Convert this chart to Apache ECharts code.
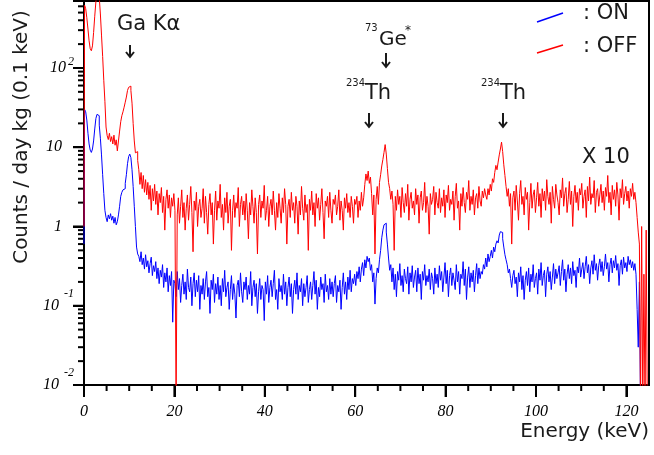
<!DOCTYPE html>
<html>
<head>
<meta charset="utf-8">
<script src="https://cdn.jsdelivr.net/npm/echarts@6/dist/echarts.min.js"></script>
<style>
  html, body { margin: 0; padding: 0; background: #fff; overflow: hidden; }
  #wrap { position: relative; width: 654px; height: 455px; }
  .layer { position: absolute; left: 0; top: 0; width: 654px; height: 455px; }
</style>
</head>
<body>
<div id="wrap">
  <div id="axes" class="layer"></div>
  <div id="chart" class="layer"></div>
</div>
<script>
  // spectra, 0.25 keV bins; each segment starts at the energy given with it
  let binWidth = 0.25;

  // ON (blue)
  let onLow = [0.6, 30, 28, 22, 15, 11, 9.2, 8.6, 9.5, 12, 17, 23, 26, 25, 19, 13, 8, 4.5, 2.6, 1.6,
    1.3, 1.15, 1.4, 1.25, 1.45, 1.2, 1.35, 1.1, 1.3, 1.05, 1.15, 1.4, 1.8, 2.4, 2.7, 2.9, 3.0, 3.5, 4.5, 6.2,
    7.6, 8.2, 7.4, 5.2, 3.2, 1.8, 1.0, 0.55, 0.45];
  let onTail = [0.42, 0.36, 0.48, 0.33, 0.4, 0.29, 0.44, 0.31, 0.37, 0.26, 0.34, 0.41, 0.24, 0.32, 0.27, 0.36,
    0.22, 0.3, 0.19, 0.28, 0.23, 0.33, 0.17, 0.26, 0.2, 0.3, 0.15, 0.24, 0.18, 0.27, 0.062, 0.21];
  let onFlat1 = [
    0.19, 0.13, 0.27, 0.16, 0.22, 0.11, 0.18, 0.25, 0.14, 0.2, 0.12, 0.29, 0.17, 0.15, 0.23, 0.1, 0.19, 0.26, 0.13, 0.21,
    0.15, 0.24, 0.09, 0.18, 0.14, 0.22, 0.12, 0.2, 0.27, 0.13, 0.17, 0.08, 0.21, 0.16, 0.25, 0.11, 0.19, 0.14, 0.23, 0.12,
    0.18, 0.1, 0.22, 0.15, 0.28, 0.13, 0.17, 0.2, 0.09, 0.16, 0.24, 0.12, 0.19, 0.14, 0.07, 0.18, 0.21, 0.13, 0.26, 0.15,
    0.11, 0.2, 0.16, 0.23, 0.12, 0.18, 0.14, 0.27, 0.1, 0.17, 0.21, 0.13, 0.19, 0.08, 0.15, 0.22, 0.12, 0.18, 0.16, 0.065,
    0.2, 0.14, 0.24, 0.11, 0.17, 0.21, 0.13, 0.19, 0.28, 0.12, 0.16, 0.09, 0.22, 0.15, 0.18, 0.12, 0.25, 0.14, 0.2, 0.1,
    0.17, 0.23, 0.13, 0.19, 0.08, 0.16, 0.21, 0.14, 0.26, 0.12, 0.18, 0.15, 0.22, 0.1, 0.19, 0.13, 0.17, 0.24, 0.11, 0.16,
    0.2, 0.12, 0.18, 0.27, 0.14, 0.21, 0.09, 0.17, 0.13, 0.23, 0.16, 0.19, 0.11, 0.25, 0.15, 0.18, 0.12, 0.22, 0.14, 0.2,
    0.13, 0.19, 0.24, 0.11, 0.18, 0.15, 0.21, 0.09, 0.17, 0.26, 0.14, 0.2, 0.12, 0.23, 0.16, 0.28, 0.15, 0.22, 0.19, 0.25];
  let onPeak67 = [0.18, 0.27, 0.22, 0.31, 0.2, 0.29, 0.35, 0.24, 0.38, 0.3, 0.42, 0.36, 0.4, 0.28, 0.33, 0.2,
    0.26, 0.105, 0.22, 0.3, 0.26, 0.38, 0.5, 0.72, 0.9, 1.05, 1.1, 0.85, 0.6, 0.4, 0.28, 0.33];
  let onFlat2 = [
    0.2, 0.3, 0.16, 0.25, 0.13, 0.27, 0.21, 0.34, 0.18, 0.24, 0.15, 0.29, 0.22, 0.19, 0.31, 0.14, 0.26, 0.2, 0.32, 0.17,
    0.23, 0.28, 0.15, 0.3, 0.19, 0.25, 0.12, 0.27, 0.21, 0.33, 0.18, 0.24, 0.2, 0.29, 0.16, 0.26, 0.22, 0.14, 0.3, 0.19,
    0.25, 0.17, 0.32, 0.21, 0.27, 0.15, 0.23, 0.35, 0.19, 0.28, 0.13, 0.24, 0.3, 0.18, 0.26, 0.21, 0.16, 0.33, 0.2, 0.27,
    0.14, 0.25, 0.22, 0.36, 0.18, 0.29, 0.12, 0.23, 0.31, 0.17, 0.26, 0.2, 0.28, 0.15, 0.24, 0.34, 0.19, 0.3, 0.22, 0.27,
    0.25, 0.33, 0.29, 0.4];
  let onPeak92 = [0.31, 0.45, 0.36, 0.42, 0.5, 0.4, 0.55, 0.48, 0.6, 0.66, 0.62, 0.78, 0.86, 0.84, 0.7, 0.55,
    0.44, 0.38, 0.33, 0.26, 0.29, 0.22, 0.17, 0.24];
  let onFlat3 = [
    0.28, 0.19, 0.23, 0.13, 0.26, 0.2, 0.31, 0.16, 0.24, 0.12, 0.21, 0.27, 0.18, 0.3, 0.15, 0.25, 0.2, 0.33, 0.17, 0.22,
    0.26, 0.14, 0.29, 0.21, 0.35, 0.18, 0.24, 0.28, 0.13, 0.25, 0.31, 0.2, 0.27, 0.16, 0.23, 0.34, 0.19, 0.29, 0.22, 0.26,
    0.32, 0.18, 0.27, 0.38, 0.21, 0.29, 0.15, 0.25, 0.33, 0.22, 0.3, 0.19, 0.36, 0.24, 0.28, 0.17, 0.31, 0.26, 0.4, 0.23];
  let onFlat4 = [
    0.29, 0.35, 0.22, 0.31, 0.42, 0.26, 0.33, 0.19, 0.3, 0.37, 0.25, 0.44, 0.28, 0.34, 0.21, 0.32, 0.39, 0.27, 0.36, 0.24,
    0.31, 0.45, 0.29, 0.35, 0.2, 0.33, 0.4, 0.26, 0.37, 0.3, 0.43, 0.28, 0.34, 0.18, 0.32, 0.38, 0.25, 0.41, 0.3, 0.35,
    0.27, 0.42, 0.33, 0.38, 0.3, 0.36, 0.28, 0.34];
  let onEnd = [0.25, 0.09, 0.03, 0.2, 0.005, 0.005, 0.005, 0.005, 0.005, 0.005, 0.005, 0.005];

  // OFF (red, already x 10)
  let offLow = [1.0, 620, 560, 430, 310, 220, 175, 165, 190, 280, 450, 680, 900, 950, 780, 480, 260, 140, 70, 38,
    18, 14, 12.5, 15, 11.8, 13.6, 11, 14.2, 10.6, 12.4, 9.0, 12, 16, 21, 25, 28, 32, 37, 43, 52,
    57, 59, 52, 36, 20, 12, 8.5, 8.8, 6.8];
  let offTail = [5.2, 3.4, 4.8, 3.0, 4.4, 2.7, 3.9, 2.5, 3.6, 2.2, 3.3, 1.6, 3.0, 2.1, 3.4, 1.9,
    2.8, 1.4, 2.6, 2.0, 3.1, 1.5, 2.4, 0.9, 2.2, 2.9, 1.7, 2.5, 1.3, 2.3, 1.8, 2.6, 1.6, 0.005];
  let offFlat1 = [
    1.4, 2.3, 1.1, 1.8, 2.9, 1.3, 2.0, 0.9, 1.7, 2.5, 1.2, 1.9, 3.2, 1.5, 0.48, 2.1, 1.6, 2.7, 1.0, 1.8,
    2.2, 1.3, 1.7, 3.0, 1.1, 2.4, 1.5, 0.8, 1.9, 2.6, 1.4, 2.0, 0.6, 1.6, 2.8, 1.2, 2.1, 1.7, 3.4, 1.3,
    1.9, 0.9, 2.3, 1.5, 2.7, 1.1, 1.8, 2.2, 0.5, 1.6, 2.5, 1.3, 2.0, 1.7, 3.1, 1.0, 1.9, 2.4, 1.4, 2.1,
    1.2, 2.6, 1.6, 0.7, 2.0, 1.4, 2.9, 1.8, 1.1, 2.3, 1.5, 0.45, 1.9, 2.5, 1.3, 2.1, 1.7, 3.3, 1.2, 1.6,
    2.4, 1.0, 1.8, 2.2, 1.4, 2.8, 1.6, 0.9, 2.0, 1.3, 2.6, 1.7, 1.1, 2.3, 1.5, 3.0, 1.9, 0.6, 1.8, 2.2,
    1.3, 2.7, 1.6, 2.0, 1.1, 2.4, 1.8, 0.8, 2.1, 1.4, 3.2, 1.7, 1.2, 2.5, 1.5, 1.9, 0.5, 2.2, 1.6, 2.8,
    1.4, 2.0, 1.0, 2.6, 1.7, 2.3, 1.2, 1.9, 3.0, 1.5, 0.7, 2.1, 1.8, 2.4, 1.3, 2.7, 1.6, 1.1, 2.2, 1.9,
    2.5, 1.4, 1.8, 2.9, 1.2, 2.1, 1.6, 0.9, 2.3, 1.7, 2.6, 1.5, 2.0, 1.3, 2.4, 1.8, 1.1, 2.2];
  let offPeak67 = [1.9, 2.4, 1.3, 2.1, 1.6, 2.7, 1.8, 2.3, 3.4, 4.6, 3.8, 5.0, 3.5, 4.2, 2.6, 1.4,
    2.5, 0.45, 2.2, 3.2, 1.9, 3.6, 4.5, 5.8, 7.0, 8.6, 10.8, 8.2, 5.4, 3.6, 3.0, 2.2, 2.8, 1.9, 0.5, 2.4];
  let offFlat2 = [
    1.6, 2.9, 1.9, 2.4, 1.3, 3.1, 2.0, 1.5, 2.6, 1.8, 3.4, 1.2, 2.2, 2.7, 1.7, 2.1, 1.4, 3.0, 1.9, 2.5,
    1.1, 2.3, 2.8, 1.6, 2.0, 3.6, 1.5, 2.4, 1.8, 0.8, 2.6, 1.9, 2.2, 3.2, 1.4, 2.7, 2.0, 1.7, 3.0, 1.5,
    2.3, 1.8, 2.9, 1.3, 2.5, 2.0, 3.3, 1.6, 2.2, 1.9, 2.8, 1.2, 2.4, 3.5, 1.7, 2.1, 0.9, 2.6, 1.8, 3.1,
    2.0, 1.5, 2.7, 2.2, 3.8, 1.6, 2.4, 1.9, 2.9, 1.4, 2.3, 2.6, 1.7, 3.2, 2.1, 1.8, 2.8, 2.3, 3.0, 2.5];
  let offPeak92 = [2.2, 3.0, 2.5, 3.4, 2.8, 4.0, 3.6, 4.8, 5.9, 5.2, 6.5, 8.0, 9.5, 11.6, 8.8, 6.0,
    4.4, 3.2, 2.4, 3.0, 1.8, 2.6, 0.6, 2.3];
  let offFlat3 = [
    2.8, 1.6, 3.3, 2.1, 1.2, 2.6, 3.8, 1.9, 2.4, 1.4, 3.1, 2.2, 2.7, 0.9, 2.0, 3.5, 1.7, 2.5, 2.9, 1.5,
    2.3, 3.6, 1.8, 2.6, 1.3, 3.0, 2.1, 2.8, 1.6, 3.9, 2.4, 1.9, 2.7, 1.1, 3.2, 2.2, 1.7, 3.4, 2.5, 2.0,
    1.4, 2.9, 2.3, 4.1, 1.8, 2.6, 3.1, 1.5, 2.2, 3.7, 1.9, 2.8, 1.0, 2.4, 3.3, 2.0, 2.7, 1.6, 3.0, 2.5,
    3.5, 1.7, 2.4, 2.9, 1.3, 3.2, 2.1, 4.2, 1.9, 2.6, 2.3, 3.8, 1.5, 2.7, 3.0, 1.8, 2.5, 3.4, 2.0, 2.8,
    1.6, 3.1, 2.4, 4.4, 2.0, 2.7, 1.4, 3.3, 2.2, 2.9, 1.8, 3.6, 2.5, 1.2, 3.0, 2.3, 3.9, 1.9, 2.6, 3.2,
    2.1, 2.8, 1.7, 3.0, 2.4, 3.5, 2.2, 2.7];
  let offEnd = [2.0, 1.3, 0.85, 0.6, 0.005, 1.0, 0.005, 0.25, 0.005, 0.9, 0.005, 0.005];

  let onSegments = [[0, onLow], [12.25, onTail], [20.25, onFlat1], [60.25, onPeak67], [68.25, onFlat2],
    [89.25, onPeak92], [95.25, onFlat3], [110.25, onFlat4], [122.25, onEnd]];
  let offSegments = [[0, offLow], [12.25, offTail], [20.75, offFlat1], [60.25, offPeak67], [69.25, offFlat2],
    [89.25, offPeak92], [95.25, offFlat3], [122.25, offEnd]];

  // axis ticks
  let xMajor = [0, 20, 40, 60, 80, 100, 120];
  let xMinor = [5, 10, 15, 25, 30, 35, 45, 50, 55, 65, 70, 75, 85, 90, 95, 105, 110, 115];
  let yMajor = [0.01, 0.1, 1, 10, 100];
  let yMinor = [];
  yMajor.forEach(function (d) {
    for (let m = 2; m <= 9; m++) {
      if (d * m < 700) yMinor.push(+(d * m).toPrecision(3));
    }
  });

  let yMin = 0.01, yMax = 700, xMin = 0, xMax = 125;

  function toPoints(segments) {
    let pts = [];
    segments.forEach(function (seg) {
      seg[1].forEach(function (v, i) {
        pts.push([+(seg[0] + i * binWidth).toFixed(2), v]);
      });
    });
    pts.sort(function (a, b) { return a[0] - b[0]; });
    return pts;
  }

  let serif = 'Liberation Serif';
  let sans = 'DejaVu Sans';
  let ink = '#1a1a1a';

  function txt(x, y, text, size, align) {
    return {
      type: 'text', x: x, y: y, silent: true,
      style: { text: text, font: size + 'px "' + sans + '"', fill: ink, align: align || 'left', verticalAlign: 'middle' }
    };
  }
  function seg(x1, y1, x2, y2, color, width) {
    return { type: 'line', silent: true, shape: { x1: x1, y1: y1, x2: x2, y2: y2 }, style: { stroke: color, lineWidth: width } };
  }
  function arrow(x, y0, y1) {
    return [
      seg(x, y0, x, y1, ink, 2),
      { type: 'polyline', silent: true, shape: { points: [[x - 4, y1 - 5], [x, y1], [x + 4, y1 - 5]] }, style: { stroke: ink, lineWidth: 2, fill: null } }
    ];
  }

  let annotations = [
    {
      type: 'text', x: 22, y: 137, rotation: Math.PI / 2, silent: true,
      style: { text: 'Counts / day kg (0.1 keV)', font: '20px "' + sans + '"', fill: ink, align: 'center', verticalAlign: 'middle' }
    },
    txt(649, 432, 'Energy (keV)', 20, 'right'),
    txt(117, 24.5, 'Ga Kα', 21),
    txt(365, 28.5, '73', 10),
    txt(379, 39.5, 'Ge', 20),
    txt(405, 31, '*', 12),
    txt(346, 83.5, '234', 10),
    txt(365, 94, 'Th', 21),
    txt(481, 83.5, '234', 10),
    txt(500, 94, 'Th', 21),
    txt(582, 157.5, 'X 10', 21),
    seg(537, 22, 563, 13, '#0000ff', 1.5),
    txt(583, 13.5, ': ON', 21),
    seg(537, 53, 563, 45, '#ff0000', 1.5),
    txt(583, 46.5, ': OFF', 21)
  ].concat(arrow(130, 45, 57), arrow(386, 53, 67), arrow(369, 113, 127), arrow(503, 113, 127));

  let gridBox = { left: 84, right: 5, top: 1, bottom: 70 };

  // bottom layer: frame, axes, labels and ticks
  let axesChart = echarts.init(document.getElementById('axes'), null, { width: 654, height: 455 });
  axesChart.setOption({
    animation: false,
    backgroundColor: '#fff',
    grid: Object.assign({ show: true, borderColor: '#000', borderWidth: 2 }, gridBox),
    xAxis: {
      type: 'value', min: xMin, max: xMax, interval: 20,
      axisLine: { show: true, lineStyle: { color: '#000', width: 2 } },
      axisTick: { show: true, length: 12, lineStyle: { color: '#000', width: 2 } },
      axisLabel: {
        showMaxLabel: false, margin: 19, color: '#000',
        fontFamily: serif, fontStyle: 'italic', fontSize: 16
      },
      splitLine: { show: false }
    },
    yAxis: {
      type: 'log', logBase: 10, min: yMin, max: yMax,
      axisLine: { show: true, lineStyle: { color: '#000', width: 2 } },
      axisTick: { show: true, length: 11, lineStyle: { color: '#000', width: 2 } },
      axisLabel: {
        margin: 10, align: 'right',
        formatter: function (value) {
          let k = Math.round(Math.log10(value));
          if (Math.abs(Math.log10(value) - k) > 0.01) return '';
          if (k === 0) return '{b|1}{sp|}';
          if (k === 1) return '{b|10}{sp|}';
          if (k > 1) return '{b|10}{p|' + k + '}';
          return '{b|10}{n|' + k + '}';
        },
        rich: {
          b: { fontFamily: serif, fontStyle: 'italic', fontSize: 16, color: '#000' },
          p: { fontFamily: serif, fontStyle: 'italic', fontSize: 12, color: '#000', padding: [0, 0, 12, 2] },
          n: { fontFamily: serif, fontStyle: 'italic', fontSize: 12, color: '#000', padding: [0, 0, 24, 5] },
          sp: { width: 12 }
        }
      },
      splitLine: { show: false }
    },
    series: [{ type: 'line', data: [], symbol: 'none' }]
  });

  // minor ticks (and majors again) placed through the axis scales
  let ticks = [];
  xMajor.concat(xMinor).forEach(function (v) {
    let p = axesChart.convertToPixel({ gridIndex: 0 }, [v, yMin]);
    let len = xMajor.indexOf(v) >= 0 ? 12 : 6;
    ticks.push(seg(p[0], p[1], p[0], p[1] + len, '#000', 2));
  });
  yMajor.concat(yMinor).forEach(function (v) {
    let p = axesChart.convertToPixel({ gridIndex: 0 }, [xMin, v]);
    let len = yMajor.indexOf(v) >= 0 ? 11 : 6;
    ticks.push(seg(p[0] - len, p[1], p[0], p[1], '#000', 2));
  });
  axesChart.setOption({ graphic: { elements: ticks } });

  // top layer: the two spectra and the annotations, same grid and scales, axes hidden
  let hiddenAxis = { axisLine: { show: false }, axisTick: { show: false }, axisLabel: { show: false }, splitLine: { show: false } };
  let myChart = echarts.init(document.getElementById('chart'), null, { width: 654, height: 455 });
  let option = {
    animation: false,
    backgroundColor: 'transparent',
    grid: gridBox,
    xAxis: Object.assign({ type: 'value', min: xMin, max: xMax }, hiddenAxis),
    yAxis: Object.assign({ type: 'log', logBase: 10, min: yMin, max: yMax }, hiddenAxis),
    series: [
      {
        name: 'ON', type: 'line', step: 'middle', symbol: 'none', clip: true,
        lineStyle: { color: '#0000ff', width: 1 },
        data: toPoints(onSegments)
      },
      {
        name: 'OFF', type: 'line', step: 'middle', symbol: 'none', clip: true,
        lineStyle: { color: '#ff0000', width: 1 },
        data: toPoints(offSegments)
      }
    ],
    graphic: { elements: annotations }
  };
  if (option && typeof option === "object") {
    myChart.setOption(option, true);
  }
</script>
</body>
</html>
